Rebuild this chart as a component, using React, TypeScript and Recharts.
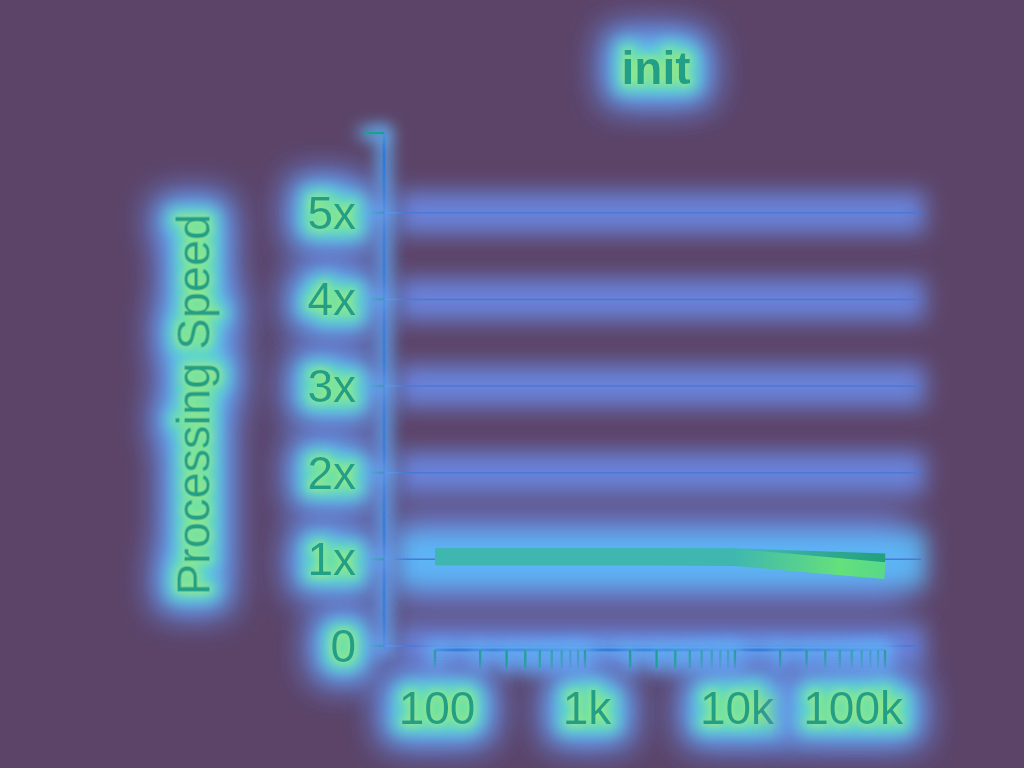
import { CartesianGrid, Line, LineChart, XAxis, YAxis } from "recharts";

// message sizes (log x axis) and relative processing speed of the two runs
const sizes = [100, 300, 1000, 3000, 10000, 30000, 100000];
const runA = [1.03, 1.03, 1.03, 1.03, 1.03, 1.0, 0.97];
const runB = [1.03, 1.03, 1.03, 1.03, 1.02, 0.95, 0.87];

const xMajor = [100, 1000, 10000, 100000];
const xLabels = ["100", "1k", "10k", "100k"];
const yTicks = [0, 1, 2, 3, 4, 5];
const yLabels = ["0", "1x", "2x", "3x", "4x", "5x"];
const yMax = 5.92;

const xTicks = xMajor
  .slice(0, -1)
  .flatMap((d) => [1, 2, 3, 4, 5, 6, 7, 8, 9].map((k) => k * d))
  .concat(xMajor[xMajor.length - 1]);

const data = sizes.map((n, i) => ({ n, a: runA[i], b: runB[i] }));

const FONT = '"Liberation Sans", Arial, Helvetica, sans-serif';
const TEXT = "#21a087";
const BG = "#5c4468";

function XTick(props: any) {
  const { x, y, payload } = props;
  const i = xMajor.indexOf(payload.value);
  if (i < 0) return <g />;
  const last = i === xMajor.length - 1;
  return (
    <text
      x={last ? x + 18 : x + 2}
      y={y}
      dy={33}
      textAnchor={last ? "end" : "middle"}
      fill={TEXT}
      fontSize={46}
      fontFamily={FONT}
      filter="url(#textGlow)"
    >
      {xLabels[i]}
    </text>
  );
}

function YTick(props: any) {
  const { x, y, payload } = props;
  const i = yTicks.indexOf(payload.value);
  if (i < 0) return <g />;
  return (
    <text x={x} y={y} dy={16} textAnchor="end" fill={TEXT} fontSize={46} fontFamily={FONT} filter="url(#textGlow)">
      {yLabels[i]}
    </text>
  );
}

function YLabel(props: any) {
  const vb = props.viewBox;
  const cx = vb.x + 193;
  const cy = vb.y + vb.height / 2 + 13;
  return (
    <text
      x={cx}
      y={cy}
      dy={16}
      textAnchor="middle"
      transform={`rotate(-90, ${cx}, ${cy})`}
      fill={TEXT}
      fontSize={47}
      fontFamily={FONT}
      filter="url(#textGlow)"
    >
      Processing Speed
    </text>
  );
}

function GridLine(props: any) {
  const { x1, y1, x2, y2, index } = props;
  const hot = index === 1;
  return (
    <g key={`g-${index}`}>
      {hot && (
        <line x1={x1 + 10} x2={x2 - 10} y1={y1} y2={y2} stroke="#6a86e2" strokeWidth={100} strokeOpacity={0.8} filter="url(#haloBig)" />
      )}
      <line
        x1={x1 + 14}
        x2={x2 + 4}
        y1={y1}
        y2={y2}
        stroke={hot ? "#5cbaf8" : "#6a88e4"}
        strokeWidth={hot ? 54 : 42}
        strokeOpacity={0.92}
        filter="url(#halo)"
      />
      <line x1={x1} x2={x2} y1={y1} y2={y2} stroke="#4b78d4" strokeWidth={1.5} />
    </g>
  );
}

const axisGlow = { stroke: "#2f7ad6", strokeWidth: 3, filter: "url(#lineGlow)" };
const tickGlow = { stroke: "#1fa090", strokeWidth: 2.5, filter: "url(#lineGlow)" };

export default function App() {
  return (
    <div style={{ position: "absolute", left: 0, top: 0, width: 1024, height: 768, background: BG, overflow: "hidden" }}>
      <LineChart width={1024} height={768} data={data} margin={{ top: 133, right: 103, bottom: 0, left: 0 }}>
        <defs>
          <filter id="halo" filterUnits="userSpaceOnUse" x="-3000" y="-3000" width="6000" height="6000">
            <feGaussianBlur stdDeviation="11" />
          </filter>
          <filter id="haloBig" filterUnits="userSpaceOnUse" x="-3000" y="-3000" width="6000" height="6000">
            <feGaussianBlur stdDeviation="18" />
          </filter>
          <filter id="lineGlow" filterUnits="userSpaceOnUse" x="-3000" y="-3000" width="6000" height="6000">
            <feMorphology in="SourceAlpha" operator="dilate" radius="5" result="d" />
            <feGaussianBlur in="d" stdDeviation="8" result="b" />
            <feFlood floodColor="#62b0f6" result="f" />
            <feComposite in="f" in2="b" operator="in" result="c" />
            <feMerge>
              <feMergeNode in="c" />
              <feMergeNode in="SourceGraphic" />
            </feMerge>
          </filter>
          <filter id="textGlow" filterUnits="userSpaceOnUse" x="-3000" y="-3000" width="6000" height="6000">
            <feMorphology in="SourceAlpha" operator="dilate" radius="18" result="d3" />
            <feGaussianBlur in="d3" stdDeviation="18" result="b3" />
            <feFlood floodColor="#6a8ce8" result="f3" />
            <feComposite in="f3" in2="b3" operator="in" result="bl" />
            <feMorphology in="SourceAlpha" operator="dilate" radius="10" result="d2" />
            <feGaussianBlur in="d2" stdDeviation="11" result="b2" />
            <feFlood floodColor="#58c8f0" result="f2" />
            <feComposite in="f2" in2="b2" operator="in" result="cy" />
            <feMorphology in="SourceAlpha" operator="dilate" radius="6" result="d1" />
            <feGaussianBlur in="d1" stdDeviation="7" result="b1" />
            <feFlood floodColor="#66e0a8" result="f1" />
            <feComposite in="f1" in2="b1" operator="in" result="gr" />
            <feGaussianBlur in="SourceAlpha" stdDeviation="4" result="b0" />
            <feFlood floodColor="#b4ee58" floodOpacity="0.85" result="f0" />
            <feComposite in="f0" in2="b0" operator="in" result="yel" />
            <feMerge>
              <feMergeNode in="bl" />
              <feMergeNode in="bl" />
              <feMergeNode in="cy" />
              <feMergeNode in="gr" />
              <feMergeNode in="yel" />
              <feMergeNode in="SourceGraphic" />
            </feMerge>
          </filter>
          <linearGradient id="gradA" x1="0" x2="1" y1="0" y2="0">
            <stop offset="0%" stopColor="#3fb6b0" />
            <stop offset="72%" stopColor="#3fb6b0" />
            <stop offset="100%" stopColor="#22a07a" />
          </linearGradient>
          <linearGradient id="gradB" x1="0" x2="1" y1="0" y2="0">
            <stop offset="0%" stopColor="#3fb6b0" />
            <stop offset="66%" stopColor="#3fb6b0" />
            <stop offset="90%" stopColor="#64e07c" />
            <stop offset="100%" stopColor="#58d88a" />
          </linearGradient>
        </defs>
        <CartesianGrid vertical={false} horizontalValues={yTicks} horizontal={GridLine} />
        <XAxis
          dataKey="n"
          type="number"
          scale="log"
          domain={[100, 100000]}
          ticks={xTicks}
          interval={0}
          padding={{ left: 51, right: 36 }}
          height={118}
          tickSize={18}
          tickMargin={23}
          tick={XTick}
          axisLine={{ ...axisGlow, strokeDasharray: "0 51 450 2000" }}
          tickLine={tickGlow}
        />
        <YAxis
          type="number"
          domain={[0, yMax]}
          ticks={[...yTicks, yMax]}
          interval={0}
          padding={{ top: 0, bottom: 4 }}
          width={384}
          tickSize={20}
          tickMargin={8}
          tick={YTick}
          axisLine={axisGlow}
          tickLine={tickGlow}
          label={YLabel}
        />
        <Line dataKey="a" stroke="url(#gradA)" strokeWidth={17} dot={false} isAnimationActive={false} type="linear" />
        <Line dataKey="b" stroke="url(#gradB)" strokeWidth={17} dot={false} isAnimationActive={false} type="linear" />
      </LineChart>
      <svg width={1024} height={140} style={{ position: "absolute", left: 0, top: 0, pointerEvents: "none" }}>
        <text
          x={656}
          y={84}
          textAnchor="middle"
          fill={TEXT}
          fontSize={46}
          fontWeight="bold"
          fontFamily={FONT}
          filter="url(#textGlow)"
        >
          init
        </text>
      </svg>
    </div>
  );
}
